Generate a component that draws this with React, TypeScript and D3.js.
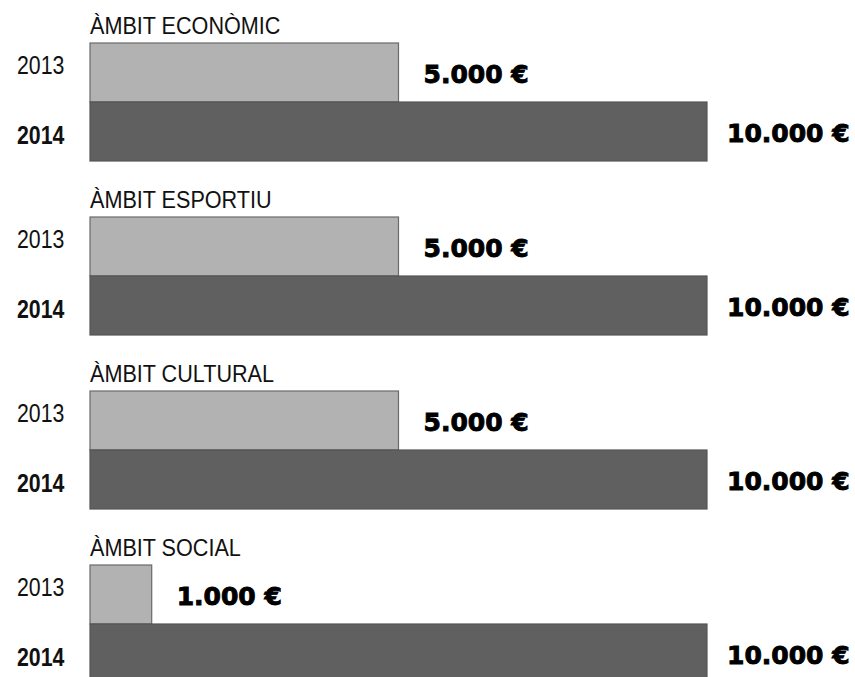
import React from 'react';
import * as d3 from 'd3';

// data
const categories = ['ÀMBIT ECONÒMIC', 'ÀMBIT ESPORTIU', 'ÀMBIT CULTURAL', 'ÀMBIT SOCIAL'];
const years = ['2013', '2014'];
const values2013 = [5000, 5000, 5000, 1000];
const values2014 = [10000, 10000, 10000, 10000];

const W = 855;
const H = 677;

const euro = d3.formatLocale({
  decimal: ',',
  thousands: '.',
  grouping: [3],
  currency: ['', ' €'],
}).format('$,');

const App = () => {
  const x = d3.scaleLinear().domain([0, 10000]).range([90, 707]);

  // each group: two stacked bars (118px), 174px step
  const y = d3.scaleBand<string>()
    .domain(categories)
    .range([43, 683])
    .paddingInner(56 / 174)
    .paddingOuter(0);

  const yYear = d3.scaleBand<string>()
    .domain(years)
    .range([0, y.bandwidth()])
    .padding(0);

  const series = [values2013, values2014];
  const fills = ['#b2b2b2', '#606060'];
  const strokes = ['#6a6a6a', '#555555'];
  const labelShift = [25, 20];
  const yearOffset = [31, 42];

  return (
    <svg
      width={W}
      height={H}
      style={{ position: 'absolute', left: 0, top: 0, background: '#fff' }}
    >
      {categories.map((cat, ci) => {
        const top = y(cat) as number;
        return (
          <g key={cat}>
            {/* condensed look of the original titles */}
            <text
              transform={`translate(90,${top - 9}) scale(0.9,1)`}
              style={{ fontFamily: '"Liberation Sans", Arial, sans-serif', fontSize: '24px', fill: '#111' }}
            >
              {cat}
            </text>
            {years.map((yr, yi) => {
              const v = series[yi][ci];
              const by = top + (yYear(yr) as number);
              const bh = yYear.bandwidth();
              return (
                <g key={yr}>
                  <rect
                    x={x(0)}
                    y={by}
                    width={x(v) - x(0)}
                    height={bh}
                    fill={fills[yi]}
                    stroke={strokes[yi]}
                    strokeWidth={1.2}
                  />
                  <text
                    transform={`translate(17,${by + yearOffset[yi]}) scale(0.82,1)`}
                    style={{
                      fontFamily: '"Liberation Sans", Arial, sans-serif',
                      fontSize: '26px',
                      fontWeight: yi === 1 ? 'bold' : 'normal',
                      fill: '#111',
                    }}
                  >
                    {yr}
                  </text>
                  <text
                    x={x(v) + labelShift[yi]}
                    y={by + bh / 2 + 10}
                    style={{
                      fontFamily: '"DejaVu Sans", sans-serif',
                      fontSize: '25px',
                      fontWeight: 'bold',
                      fill: '#000',
                      stroke: '#000',
                      strokeWidth: 0.9,
                    }}
                  >
                    {euro(v)}
                  </text>
                </g>
              );
            })}
          </g>
        );
      })}
    </svg>
  );
};

export default App;
